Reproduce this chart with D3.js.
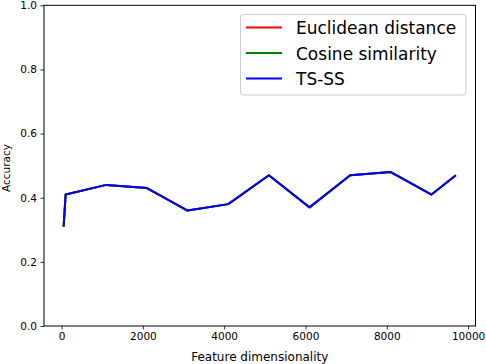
<!DOCTYPE html>
<html>
<head>
<meta charset="utf-8">
<script src="https://cdn.jsdelivr.net/npm/d3@7"></script>
<style>
  body { margin: 0; background: #fff; }
  text { font-family: "DejaVu Sans", sans-serif; }
</style>
</head>
<body>
<svg width="486" height="364"></svg>
<script>
// data
var dims = [50, 100, 1100, 2100, 3100, 4100, 5100, 6100, 7100, 8100, 9100, 9700];
var euclidean = [0.31, 0.41, 0.44, 0.43, 0.36, 0.38, 0.47, 0.37, 0.47, 0.48, 0.41, 0.47];
var cosine    = [0.31, 0.41, 0.44, 0.43, 0.36, 0.38, 0.47, 0.37, 0.47, 0.48, 0.41, 0.47];
var tsss      = [0.31, 0.41, 0.44, 0.43, 0.36, 0.38, 0.47, 0.37, 0.47, 0.48, 0.41, 0.47];
var seriesNames = ["Euclidean distance", "Cosine similarity", "TS-SS"];
var seriesColors = ["#ff0000", "#008000", "#0000ff"];
var xTicks = [0, 2000, 4000, 6000, 8000, 10000];
var yTicks = [0.0, 0.2, 0.4, 0.6, 0.8, 1.0];

const svg = d3.select("svg"),
  padLeft = 44, padRight = 475.5, padTop = 5.3, padBottom = 326;

// matplotlib style 5% margins on x
const span = d3.max(dims) - d3.min(dims);
const x = d3.scaleLinear()
  .domain([d3.min(dims) - 0.05 * span, d3.max(dims) + 0.05 * span])
  .range([padLeft, padRight]);
const y = d3.scaleLinear().domain([0, 1]).range([padBottom, padTop]);

const series = [euclidean, cosine, tsss];

const line = d3.line()
  .x((d, i) => x(dims[i]))
  .y(d => y(d));

svg.append("g")
  .selectAll("path")
  .data(series)
  .enter().append("path")
    .attr("d", d => line(d))
    .attr("fill", "none")
    .attr("stroke", (d, i) => seriesColors[i])
    .attr("stroke-width", 2)
    .attr("stroke-linejoin", "round");

// axes
const xAxis = svg.append("g")
  .attr("transform", "translate(0," + padBottom + ")")
  .call(d3.axisBottom(x).tickValues(xTicks).tickFormat(d3.format("d")).tickSizeOuter(0).tickSize(3.5).tickPadding(3.5));
const yAxis = svg.append("g")
  .attr("transform", "translate(" + padLeft + ",0)")
  .call(d3.axisLeft(y).tickValues(yTicks).tickFormat(d3.format(".1f")).tickSizeOuter(0).tickSize(3.5).tickPadding(3.5));

[xAxis, yAxis].forEach(a => {
  a.select(".domain").remove();
  a.selectAll("text").attr("font-size", 10.5).attr("fill", "#000").style("font-family", "DejaVu Sans");
  a.selectAll("line").attr("stroke", "#000").attr("stroke-width", 0.8);
});

// frame
svg.append("rect")
  .attr("x", padLeft).attr("y", padTop)
  .attr("width", padRight - padLeft).attr("height", padBottom - padTop)
  .attr("fill", "none").attr("stroke", "#000").attr("stroke-width", 1);

svg.append("text")
  .attr("x", (padLeft + padRight) / 2).attr("y", 361)
  .attr("text-anchor", "middle").attr("font-size", 12)
  .text("Feature dimensionality");

svg.append("text")
  .attr("transform", "translate(9.5,168) rotate(-90)")
  .attr("text-anchor", "middle").attr("font-size", 10.5)
  .text("Accuracy");

// legend
const legend = svg.append("g");
legend.append("rect")
  .attr("x", 240.5).attr("y", 14.5).attr("width", 225.5).attr("height", 80.5)
  .attr("rx", 3).attr("fill", "#fff").attr("fill-opacity", 0.8)
  .attr("stroke", "#ccc").attr("stroke-width", 1);

const items = legend.selectAll("g.item")
  .data(seriesNames)
  .enter().append("g")
    .attr("class", "item")
    .attr("transform", (d, i) => "translate(0," + (27.5 + i * 25.5) + ")");
items.append("line")
  .attr("x1", 246).attr("x2", 282)
  .attr("stroke", (d, i) => seriesColors[i]).attr("stroke-width", 2);
items.append("text")
  .attr("x", 296).attr("y", 6.8)
  .attr("font-size", 17)
  .text(d => d);
</script>
</body>
</html>
